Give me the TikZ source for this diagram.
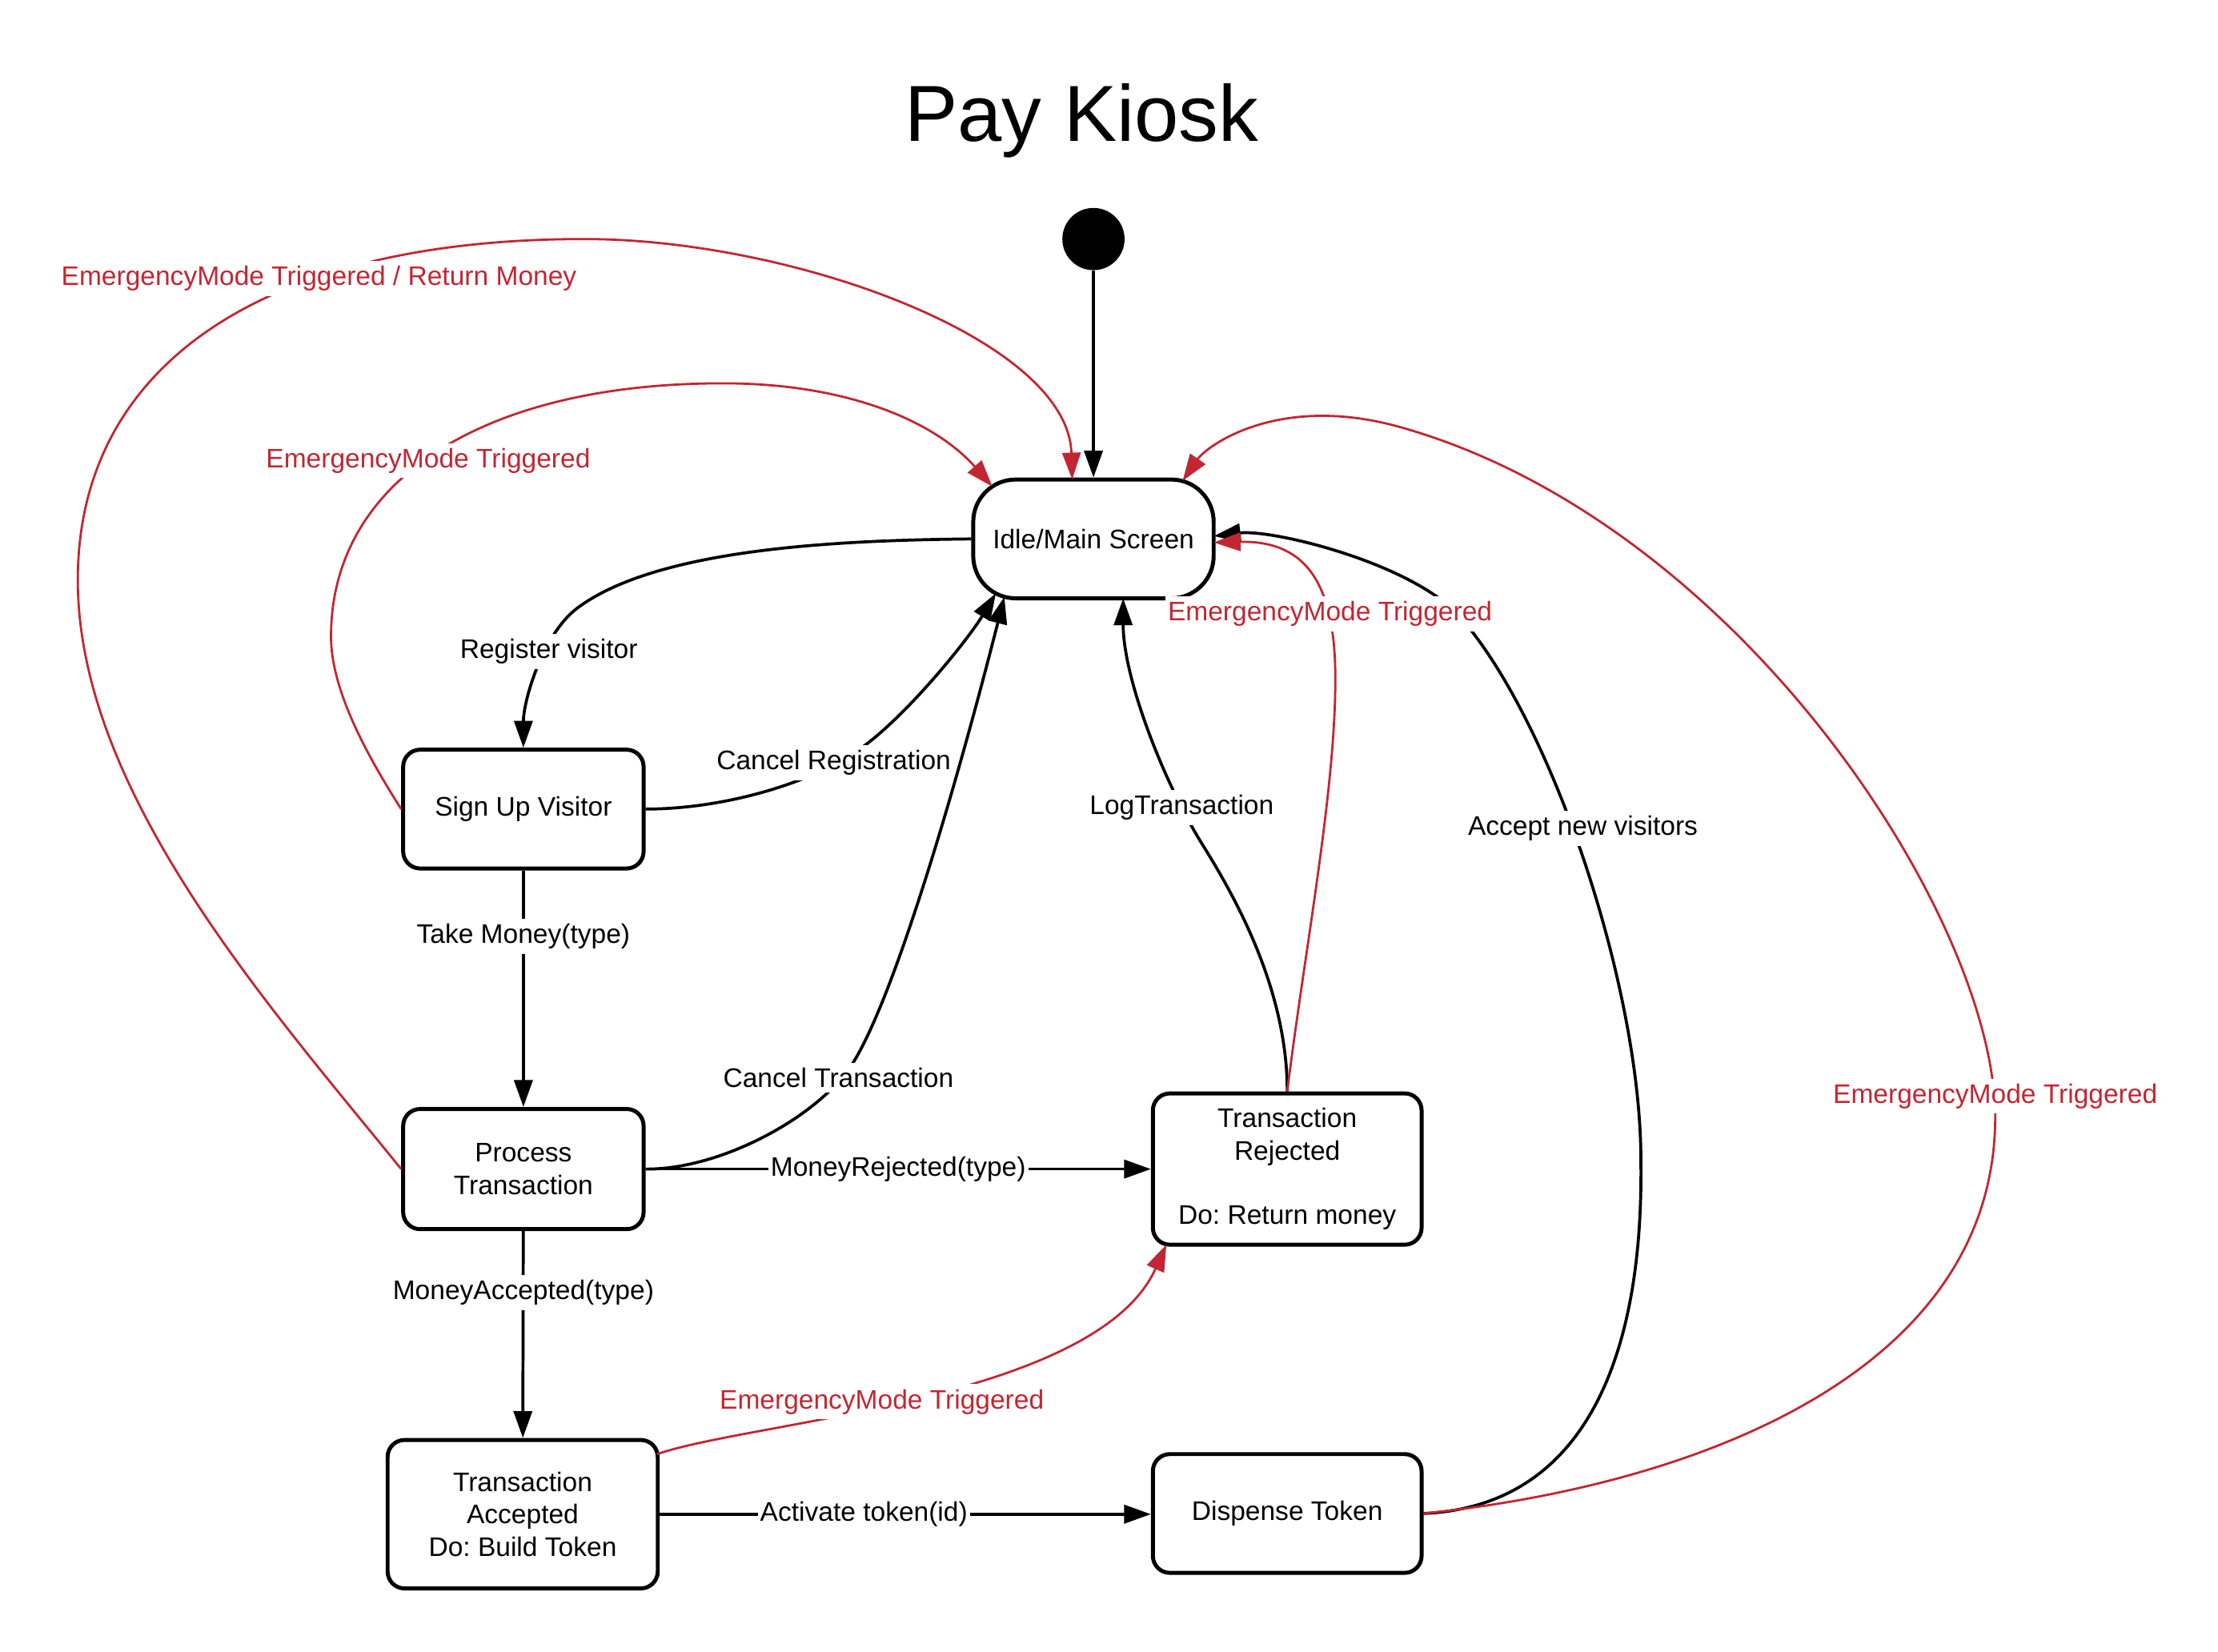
\documentclass[tikz,border=0pt]{standalone}
\usepackage{fontspec}
\setmainfont{Liberation Sans}
\usetikzlibrary{arrows.meta,calc}
\definecolor{emred}{RGB}{194,38,50}
\newcommand\lblfont{\fontsize{10.8}{13}\selectfont}
\begin{document}
\frenchspacing
\begin{tikzpicture}[x=0.02cm,y=-0.02cm,
  state/.style={draw,line width=1.6pt,rounded corners=0.24cm,align=center,font=\lblfont,inner sep=0pt,fill=white},
  arr/.style={line width=1.2pt,-{Triangle[length=0.38cm,width=0.26cm]}},
  rarr/.style={emred,line width=0.9pt,-{Triangle[length=0.38cm,width=0.26cm]}},
  lbl/.style={fill=white,inner xsep=1pt,inner ysep=2pt,font=\lblfont},
  rlbl/.style={lbl,text=emred}]
\useasboundingbox (0,0) rectangle (1568,1167.5);

% title and initial state
\node[anchor=base,font=\fontsize{32}{38}\selectfont] (title) at (764.6,99.6) {Pay Kiosk};
\node[circle,fill=black,minimum size=0.88cm,inner sep=0pt] (init) at (773,169) {};

% states
\node[state,minimum width=3.4cm,minimum height=1.68cm,rounded corners=0.6cm] (idle) at (773,381) {Idle/Main Screen};
\node[state,minimum width=3.4cm,minimum height=1.68cm] (signup) at (370,572) {Sign Up Visitor};
\node[state,minimum width=3.4cm,minimum height=1.7cm] (process) at (370,826.5) {Process\\Transaction};
\node[state,minimum width=3.82cm,minimum height=2.1cm] (accepted) at (369.5,1070.5) {Transaction\\Accepted\\Do: Build Token};
\node[state,minimum width=3.8cm,minimum height=1.68cm] (dispense) at (910,1070) {Dispense Token};
\node[state,minimum width=3.8cm,minimum height=2.14cm] (rejected) at (910,826.5) {Transaction\\Rejected\\[13pt]Do: Return money};

% end points on borders
\coordinate (c2e) at ($(idle)+(-15,-42)$);
\coordinate (c3e) at ($(idle)+(-71.5,-37)$);
\coordinate (c5e) at ($(idle)+(-69,38.5)$);
\coordinate (c6e) at ($(idle)+(-63,41)$);
\coordinate (c12e) at ($(idle)+(21,42)$);
\coordinate (c13e) at ($(idle)+(85,2.5)$);
\coordinate (c14e) at ($(idle)+(85,-2)$);
\coordinate (c15e) at ($(idle)+(63,-41)$);
\coordinate (c11s) at ($(accepted)+(95.2,-42.5)$);
\coordinate (c11e) at ($(rejected)+(-85.4,53.3)$);

% black transitions
\draw[arr] (init) -- (idle);
\draw[arr] (idle.west) .. controls (590,382) and (464,388) .. (408,430)
  .. controls (384,448) and (370,495) .. (signup.north);
\draw[arr] (signup.east) .. controls (510,572) and (573.5,554.6) .. (610,528)
  .. controls (642.4,504.4) and (684.75,451.55) .. (c5e);
\draw[arr] (process.east) .. controls (510,827) and (580.2,788.75) .. (603.6,750.5)
  .. controls (634.8,699.5) and (680,540.4) .. (c6e);
\draw[arr] (process.east) -- (rejected.west);
\draw[arr] (signup) -- (process);
\draw[arr] (process) -- (accepted);
\draw[arr] (accepted.east) -- (accepted.east -| dispense.west);
\draw[arr] (rejected.north) .. controls (910,700) and (873.9,635.3) .. (850,597)
  .. controls (823.5,554.5) and (794,480) .. (c12e);
\draw[arr] (dispense.east) .. controls (1120,1065) and (1162,960) .. (1160,820)
  .. controls (1160,700) and (1098,511) .. (1032,436)
  .. controls (999,398.5) and (900,374) .. (c14e);

% red transitions
\draw[rarr] (process.west) .. controls (190.5,711.5) and (55,560) .. (55,410)
  .. controls (55,260) and (183,169) .. (413,169)
  .. controls (560,169) and (755,240) .. (c2e);
\draw[rarr] (signup.west) .. controls (262.6,538.8) and (234,490) .. (234,450)
  .. controls (234,340) and (341,271) .. (511,271)
  .. controls (601,271) and (661.9,299) .. (c3e);
\draw[rarr] (c11s) .. controls (530,1005) and (775,990) .. (c11e);
\draw[rarr] (rejected.north) .. controls (922,674) and (944,560) .. (944,480)
  .. controls (944,415) and (925,382) .. (c13e);
\draw[rarr] (dispense.east) .. controls (1200,1050) and (1410,970) .. (1410.5,790)
  .. controls (1410.5,650) and (1230,369.5) .. (990,302)
  .. controls (903.6,277.7) and (853,315.4) .. (c15e);

% labels
\node[lbl] (l1) at (388,460.5) {Register visitor};
\node[lbl] (l2) at (589.4,539.3) {Cancel Registration};
\node[lbl] (l3) at (592.7,762) {Cancel Transaction};
\node[lbl] (l4) at (635,826.5) {MoneyRejected(type)};
\node[lbl] (l5) at (370,662) {Take Money(type)};
\node[lbl] (l6) at (370,914) {MoneyAccepted(type)};
\node[lbl] (l7) at (610.7,1070.5) {Activate token(id)};
\node[lbl] (l8) at (835.4,570.9) {LogTransaction};
\node[lbl] (l9) at (1119,585.6) {Accept new visitors};
\node[rlbl] (r1) at (225.5,197) {EmergencyMode Triggered / Return Money};
\node[rlbl] (r2) at (302.7,325.7) {EmergencyMode Triggered};
\node[rlbl] (r3) at (623.4,991) {EmergencyMode Triggered};
\node[rlbl] (r4) at (940.2,434) {EmergencyMode Triggered};
\node[rlbl] (r5) at (1410.5,775) {EmergencyMode Triggered};
\end{tikzpicture}
\end{document}
